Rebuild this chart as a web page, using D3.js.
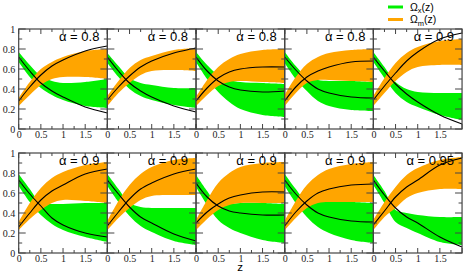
<!DOCTYPE html>
<html>
<head>
<meta charset="utf-8">
<script src="https://cdn.jsdelivr.net/npm/d3@7.9.0/dist/d3.min.js"></script>
<style>
  html, body { margin: 0; padding: 0; background: #fff; }
  svg { display: block; }
</style>
</head>
<body>
<div id="chart"></div>
<script>
// redshift grid the curves were read at
const zGrid = [0, 0.25, 0.5, 0.75, 1, 1.5, 2];
const alphas = ['0.8', '0.8', '0.8', '0.8', '0.9', '0.9', '0.9', '0.9', '0.9', '0.95'];

// Omega_x(z): best fit line and band edges, one row per panel
const omegaXLine = [
  [0.72, 0.58, 0.46, 0.38, 0.32, 0.22, 0.16],
  [0.72, 0.58, 0.46, 0.38, 0.32, 0.23, 0.17],
  [0.72, 0.58, 0.48, 0.42, 0.39, 0.37, 0.38],
  [0.72, 0.59, 0.48, 0.40, 0.36, 0.32, 0.31],
  [0.72, 0.58, 0.45, 0.35, 0.27, 0.14, 0.05],
  [0.73, 0.59, 0.47, 0.35, 0.28, 0.20, 0.16],
  [0.73, 0.59, 0.46, 0.36, 0.30, 0.19, 0.12],
  [0.70, 0.56, 0.47, 0.42, 0.40, 0.38, 0.38],
  [0.73, 0.59, 0.48, 0.40, 0.36, 0.32, 0.31],
  [0.73, 0.58, 0.45, 0.36, 0.30, 0.16, 0.06]
];
const omegaXHigh = [
  [0.77, 0.64, 0.53, 0.48, 0.46, 0.47, 0.50],
  [0.76, 0.63, 0.51, 0.46, 0.44, 0.41, 0.41],
  [0.77, 0.64, 0.54, 0.49, 0.47, 0.46, 0.45],
  [0.77, 0.63, 0.52, 0.49, 0.48, 0.48, 0.47],
  [0.77, 0.62, 0.47, 0.40, 0.37, 0.36, 0.36],
  [0.79, 0.64, 0.50, 0.49, 0.49, 0.50, 0.50],
  [0.79, 0.64, 0.50, 0.46, 0.45, 0.45, 0.45],
  [0.78, 0.62, 0.48, 0.49, 0.50, 0.50, 0.49],
  [0.79, 0.64, 0.51, 0.51, 0.51, 0.51, 0.50],
  [0.78, 0.62, 0.43, 0.40, 0.38, 0.36, 0.36]
];
const omegaXLow = [
  [0.67, 0.52, 0.41, 0.34, 0.29, 0.23, 0.21],
  [0.66, 0.52, 0.40, 0.33, 0.29, 0.24, 0.21],
  [0.67, 0.50, 0.37, 0.27, 0.20, 0.14, 0.12],
  [0.66, 0.50, 0.38, 0.28, 0.23, 0.19, 0.18],
  [0.67, 0.51, 0.36, 0.27, 0.22, 0.14, 0.09],
  [0.67, 0.51, 0.38, 0.29, 0.23, 0.16, 0.11],
  [0.67, 0.51, 0.37, 0.27, 0.21, 0.12, 0.08],
  [0.66, 0.48, 0.33, 0.25, 0.20, 0.13, 0.10],
  [0.67, 0.50, 0.36, 0.26, 0.20, 0.13, 0.10],
  [0.68, 0.50, 0.31, 0.25, 0.20, 0.11, 0.08]
];

// Omega_m(z)
const omegaMLine = [
  [0.28, 0.42, 0.54, 0.63, 0.69, 0.78, 0.83],
  [0.29, 0.42, 0.53, 0.62, 0.68, 0.76, 0.81],
  [0.28, 0.41, 0.51, 0.57, 0.60, 0.62, 0.62],
  [0.28, 0.42, 0.52, 0.58, 0.62, 0.67, 0.68],
  [0.29, 0.43, 0.56, 0.68, 0.77, 0.90, 0.96],
  [0.26, 0.40, 0.53, 0.62, 0.68, 0.79, 0.84],
  [0.27, 0.41, 0.54, 0.64, 0.70, 0.79, 0.84],
  [0.30, 0.41, 0.49, 0.55, 0.58, 0.61, 0.61],
  [0.27, 0.41, 0.52, 0.60, 0.64, 0.68, 0.69],
  [0.28, 0.42, 0.56, 0.66, 0.73, 0.88, 0.95]
];
const omegaMHigh = [
  [0.31, 0.47, 0.60, 0.67, 0.72, 0.78, 0.80],
  [0.33, 0.48, 0.61, 0.69, 0.73, 0.79, 0.81],
  [0.32, 0.49, 0.62, 0.70, 0.75, 0.79, 0.80],
  [0.34, 0.52, 0.65, 0.72, 0.76, 0.79, 0.80],
  [0.33, 0.51, 0.66, 0.76, 0.82, 0.88, 0.90],
  [0.31, 0.50, 0.65, 0.75, 0.81, 0.88, 0.91],
  [0.32, 0.52, 0.68, 0.79, 0.86, 0.93, 0.95],
  [0.33, 0.53, 0.70, 0.80, 0.86, 0.90, 0.91],
  [0.32, 0.52, 0.68, 0.78, 0.84, 0.89, 0.91],
  [0.33, 0.51, 0.66, 0.78, 0.85, 0.93, 0.96]
];
const omegaMLow = [
  [0.23, 0.34, 0.44, 0.50, 0.52, 0.52, 0.50],
  [0.23, 0.36, 0.46, 0.54, 0.58, 0.59, 0.58],
  [0.23, 0.34, 0.43, 0.47, 0.48, 0.47, 0.46],
  [0.23, 0.36, 0.46, 0.49, 0.49, 0.48, 0.47],
  [0.23, 0.36, 0.48, 0.57, 0.62, 0.64, 0.64],
  [0.23, 0.34, 0.43, 0.50, 0.53, 0.52, 0.50],
  [0.23, 0.35, 0.45, 0.53, 0.57, 0.58, 0.58],
  [0.23, 0.34, 0.43, 0.48, 0.50, 0.50, 0.50],
  [0.23, 0.35, 0.45, 0.50, 0.51, 0.51, 0.51],
  [0.23, 0.36, 0.45, 0.55, 0.60, 0.64, 0.64]
];

const xMajor = [0, 0.5, 1, 1.5, 2];
const xMinor = [0.25, 0.75, 1.25, 1.75];
const xLabels = [0, 0.5, 1, 1.5];
const yMajor = [0, 0.2, 0.4, 0.6, 0.8, 1];
const yMinor = [0.1, 0.3, 0.5, 0.7, 0.9];

const width = 463;
const height = 273;
const left = 18.7;
const panelW = 88.67;
const panelH = 100;
const rowTops = [29, 153];
const nCols = 5;

const green = '#00f000';
const orange = '#ffa500';
const frame = '#444';
const serif = '"Liberation Serif", "Times New Roman", Times, serif';
const sans = '"Liberation Sans", Arial, Helvetica, sans-serif';

const svg = d3.select('#chart')
  .append('svg')
  .attr('width', width)
  .attr('height', height);

const yFmt = (d) => (d === 0 || d === 1) ? String(d) : d.toFixed(1);

alphas.forEach((alpha, i) => {
  const col = i % nCols;
  const row = Math.floor(i / nCols);
  const x0 = left + col * panelW;
  const y0 = rowTops[row];

  const x = d3.scaleLinear().domain([0, 2]).range([x0, x0 + panelW]);
  const y = d3.scaleLinear().domain([0, 1]).range([y0 + panelH, y0]);

  const pts = zGrid.map((z, k) => ({
    z,
    xl: omegaXLine[i][k], xh: omegaXHigh[i][k], xo: omegaXLow[i][k],
    ml: omegaMLine[i][k], mh: omegaMHigh[i][k], mo: omegaMLow[i][k]
  }));

  const clipId = 'clip' + i;
  svg.append('clipPath').attr('id', clipId)
    .append('rect')
    .attr('x', x0).attr('y', y0)
    .attr('width', panelW).attr('height', panelH);

  const g = svg.append('g').attr('clip-path', `url(#${clipId})`);

  const curve = d3.curveCatmullRom.alpha(0.5);

  // bands
  g.append('path')
    .datum(pts)
    .attr('fill', green)
    .attr('d', d3.area().curve(curve).x((d) => x(d.z)).y0((d) => y(d.xo)).y1((d) => y(d.xh)));

  g.append('path')
    .datum(pts)
    .attr('fill', orange)
    .attr('d', d3.area().curve(curve).x((d) => x(d.z)).y0((d) => y(d.mo)).y1((d) => y(d.mh)));

  // best fit lines
  g.append('path')
    .datum(pts)
    .attr('fill', 'none').attr('stroke', '#000').attr('stroke-width', 1.1)
    .attr('d', d3.line().curve(curve).x((d) => x(d.z)).y((d) => y(d.xl)));

  g.append('path')
    .datum(pts)
    .attr('fill', 'none').attr('stroke', '#000').attr('stroke-width', 1.1)
    .attr('d', d3.line().curve(curve).x((d) => x(d.z)).y((d) => y(d.ml)));

  // ticks on all four sides, pointing in
  const ticks = svg.append('g').attr('stroke', frame).attr('stroke-width', 1);
  const xt = xMajor.map((v) => [v, 5]).concat(xMinor.map((v) => [v, 3]));
  xt.forEach(([v, len]) => {
    ticks.append('line').attr('x1', x(v)).attr('x2', x(v)).attr('y1', y(0)).attr('y2', y(0) - len);
    ticks.append('line').attr('x1', x(v)).attr('x2', x(v)).attr('y1', y(1)).attr('y2', y(1) + len);
  });
  const yt = yMajor.map((v) => [v, 7]).concat(yMinor.map((v) => [v, 3.5]));
  yt.forEach(([v, len]) => {
    ticks.append('line').attr('x1', x(0)).attr('x2', x(0) + len).attr('y1', y(v)).attr('y2', y(v));
    ticks.append('line').attr('x1', x(2)).attr('x2', x(2) - len).attr('y1', y(v)).attr('y2', y(v));
  });

  // frame
  svg.append('rect')
    .attr('x', x0).attr('y', y0)
    .attr('width', panelW).attr('height', panelH)
    .attr('fill', 'none').attr('stroke', frame).attr('stroke-width', 1.2);

  // x tick labels
  svg.append('g').selectAll('text')
    .data(xLabels)
    .join('text')
    .attr('font-family', serif)
    .attr('font-size', 10)
    .attr('fill', '#222')
    .attr('x', (d) => x(d) + 0.5)
    .attr('y', y(0) + 8.5)
    .attr('text-anchor', 'middle')
    .text((d) => d);

  // y tick labels on the first column
  if (col === 0) {
    svg.append('g').selectAll('text')
      .data(yMajor)
      .join('text')
      .attr('font-family', serif)
      .attr('font-size', 10)
      .attr('fill', '#222')
      .attr('x', x0 - 3.5)
      .attr('y', (d) => y(d) + 3.5)
      .attr('text-anchor', 'end')
      .text(yFmt);
  }

  svg.append('text')
    .attr('font-family', sans)
    .attr('font-size', 13)
    .attr('x', x0 + panelW - 8)
    .attr('y', y0 + 12)
    .attr('text-anchor', 'end')
    .text('\u03b1 = ' + alpha);
});

// axis title
svg.append('text')
  .attr('x', 240)
  .attr('y', 270.5)
  .attr('text-anchor', 'middle')
  .attr('font-family', sans)
  .attr('font-size', 11.5)
  .text('z');

// legend
const legendItems = [
  { sub: 'x', color: green },
  { sub: 'm', color: orange }
];
legendItems.forEach((item, k) => {
  const ly = 7 + k * 12.5;
  svg.append('line')
    .attr('x1', 388).attr('x2', 403)
    .attr('y1', ly).attr('y2', ly)
    .attr('stroke', item.color).attr('stroke-width', 3);
  const t = svg.append('text')
    .attr('font-family', sans)
    .attr('font-size', 10.5)
    .attr('x', 410).attr('y', ly + 3.5);
  t.append('tspan').text('\u03a9');
  t.append('tspan').attr('font-size', '7.5px').attr('dy', 2.5).text(item.sub);
  t.append('tspan').attr('dy', -2.5).text('(z)');
});
</script>
</body>
</html>
